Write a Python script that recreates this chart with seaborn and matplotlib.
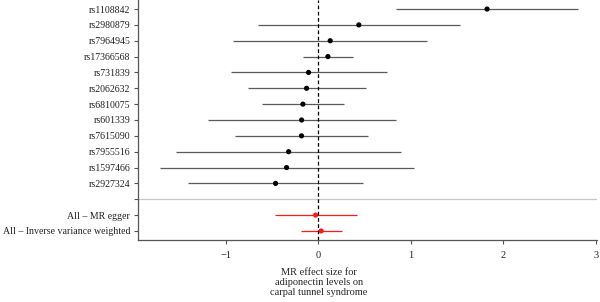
import numpy as np
import pandas as pd
import matplotlib
matplotlib.use('Agg')
import matplotlib.pyplot as plt
import seaborn as sns

# SNP / method labels, top to bottom ('' is the separator row)
labels = ['rs1108842', 'rs2980879', 'rs7964945', 'rs17366568', 'rs731839',
          'rs2062632', 'rs6810075', 'rs601339', 'rs7615090', 'rs7955516',
          'rs1597466', 'rs2927324', '', 'All \u2013 MR egger',
          'All \u2013 Inverse variance weighted']
effect = [1.823, 0.439, 0.130, 0.105, -0.104, -0.125, -0.165, -0.179, -0.180,
          -0.319, -0.341, -0.460, np.nan, -0.028, 0.032]
lower = [0.838, -0.650, -0.917, -0.168, -0.945, -0.755, -0.604, -1.187, -0.895,
         -1.538, -1.708, -1.402, np.nan, -0.467, -0.190]
upper = [2.805, 1.532, 1.180, 0.378, 0.738, 0.511, 0.281, 0.838, 0.540,
         0.892, 1.036, 0.486, np.nan, 0.419, 0.254]
group = ['snp'] * 12 + ['sep'] + ['all'] * 2
x_ticks = [-1, 0, 1, 2, 3]

df = pd.DataFrame({'label': labels, 'effect': effect, 'lower': lower,
                   'upper': upper, 'group': group})
df['pos'] = np.arange(len(df))

sns.set_style('ticks')
plt.rcParams['font.family'] = ['Liberation Serif', 'DejaVu Serif']
plt.rcParams['font.size'] = 7.5

fig = plt.figure(figsize=(6.0, 3.02), dpi=100)
ax = fig.add_axes([0.23, 0.2053, 0.765, 0.7947])

colors = {'snp': 'black', 'all': '#ff1a1a'}
line_colors = {'snp': '#5a5a5a', 'all': '#ff1a1a'}

for g in ['snp', 'all']:
    sub = df[df['group'] == g]
    ax.hlines(sub['pos'], sub['lower'], sub['upper'], color=line_colors[g],
              linewidth=0.9, zorder=2)
    sns.scatterplot(data=sub, x='effect', y='pos', color=colors[g], s=14,
                    edgecolor='none', ax=ax, zorder=3, legend=False)

# separator between single SNPs and combined estimates
sep_pos = df.loc[df['group'] == 'sep', 'pos'].iloc[0]
ax.axhline(sep_pos, color='#c8c8c8', linewidth=0.9, zorder=1)
ax.axvline(0, color='black', linestyle=(0, (3, 2)), linewidth=0.9, zorder=4)

xmin, xmax = -1.945, 3.01
ax.set_xlim(xmin, xmax)
ax.set_ylim(len(df) - 0.43, -0.57)
ax.set_yticks(df['pos'])
ax.set_yticklabels(df['label'], fontsize=7.15)
ax.set_xticks(x_ticks)
ax.set_xticklabels(['\u22121' if t < 0 else str(t) for t in x_ticks])
ax.set_ylabel('')
ax.set_xlabel('MR effect size for\nadiponectin levels on\ncarpal tunnel syndrome',
              linespacing=1.12, labelpad=6)
ax.xaxis.label.set_x((0.01 - xmin) / (xmax - xmin))

for side in ['top', 'right']:
    ax.spines[side].set_visible(False)
for side in ['left', 'bottom']:
    ax.spines[side].set_color('#555555')
    ax.spines[side].set_linewidth(0.9)
ax.tick_params(axis='both', length=3, width=0.8, color='#555555',
               labelcolor='#222222')
ax.tick_params(axis='y', pad=2.5)
ax.tick_params(axis='x', pad=5)

fig.savefig('out.png', dpi=100, facecolor='white')
